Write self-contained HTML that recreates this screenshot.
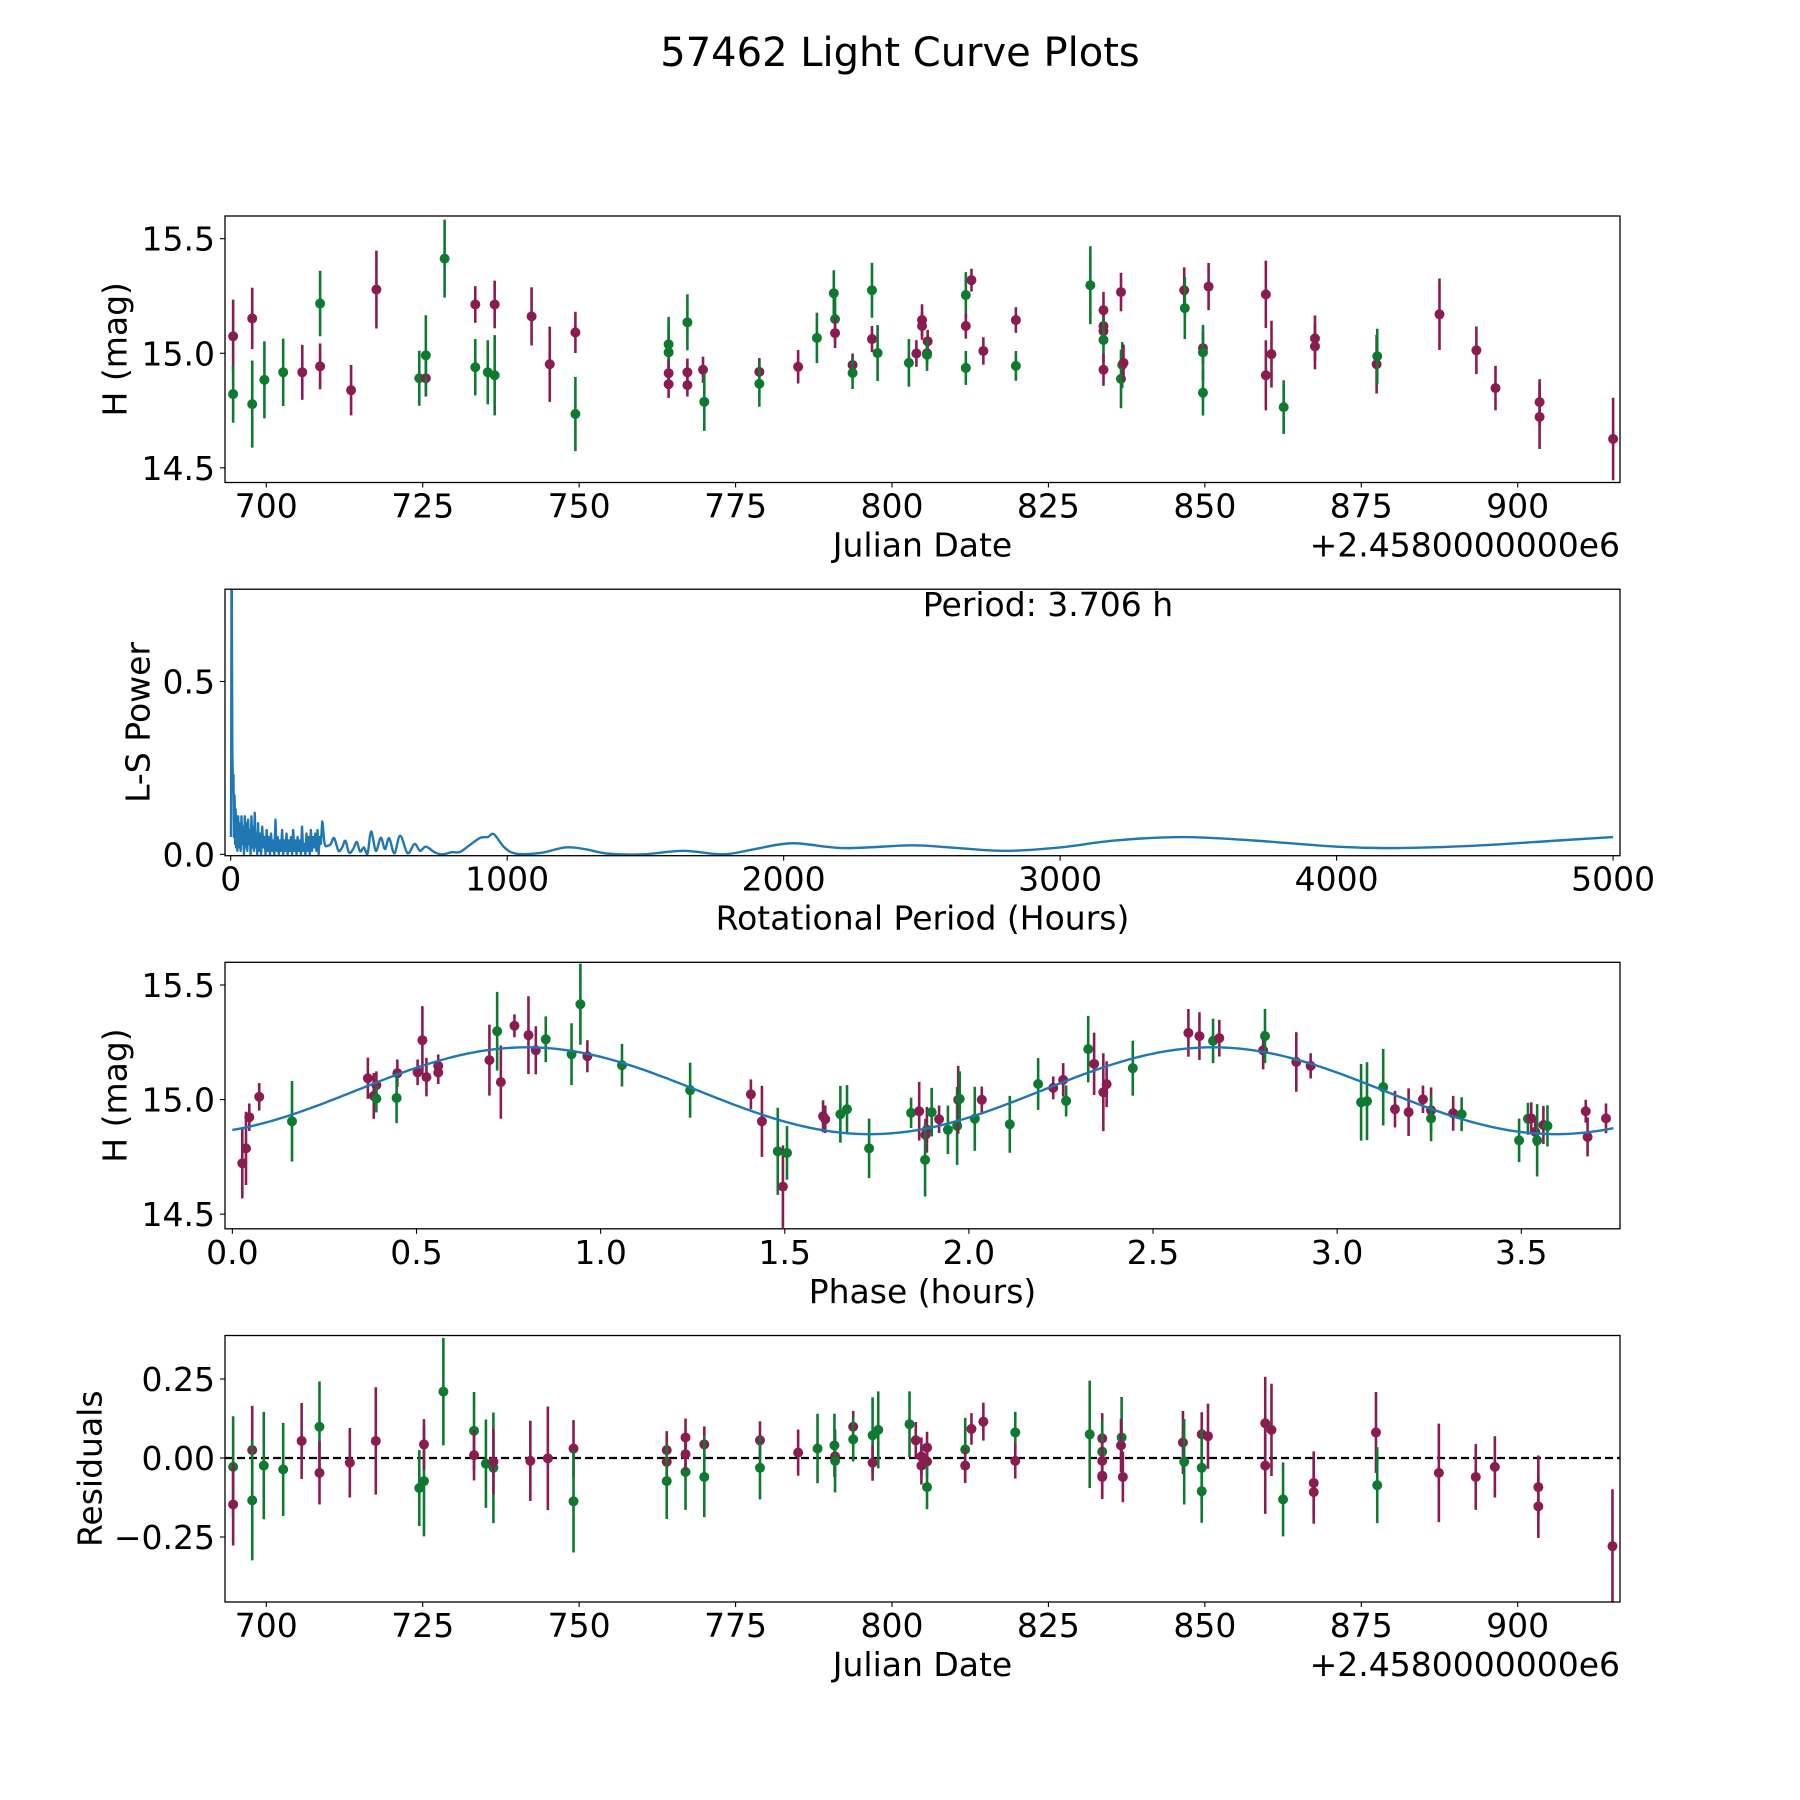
<!DOCTYPE html>
<html><head><meta charset="utf-8"><title>57462 Light Curve Plots</title>
<style>
html,body{margin:0;padding:0;background:#fff;}
svg{display:block;font-family:"DejaVu Sans","Liberation Sans",sans-serif;}
</style></head>
<body>
<svg id="fig" width="1800" height="1800" viewBox="0 0 1800 1800" xmlns="http://www.w3.org/2000/svg">
<rect x="0" y="0" width="1800" height="1800" fill="#fff"/>
<text x="900" y="66" font-size="40" text-anchor="middle">57462 Light Curve Plots</text>
</svg>
<script>
// ---------- Panel 1: light curve ----------
const lcDate=[694.7,694.7,697.75,697.75,699.7,702.7,705.75,708.6,708.6,713.55,717.6,724.45,725.5,725.5,728.5,733.4,733.4,735.4,736.5,736.5,742.4,745.3,749.4,749.4,764.3,764.3,764.3,764.3,767.3,767.3,767.3,
769.8,770.0,778.8,778.8,785.0,788.0,790.7,790.9,790.9,793.7,793.7,796.8,796.8,797.7,802.7,803.9,804.8,804.8,805.7,805.6,805.6,811.8,811.8,811.8,812.7,814.6,819.8,819.8,831.7,833.8,833.8,833.8,833.8,833.8,836.6,836.6,836.8,837.0,846.7,846.8,
850.6,849.7,849.7,849.7,859.75,859.75,860.65,862.6,867.6,867.6,877.45,877.55,887.5,893.4,896.45,903.5,903.5,915.25];
const lcMag=[15.074,14.822,15.152,14.778,14.884,14.917,14.917,14.943,15.217,14.839,15.278,14.891,14.891,14.991,15.413,15.213,14.939,14.917,15.213,14.904,15.161,14.952,15.091,14.735,15.039,15.004,14.913,14.865,15.135,14.917,14.861,
14.928,14.788,14.919,14.867,14.941,15.067,15.262,15.149,15.088,14.949,14.914,15.275,15.062,15.001,14.958,14.999,15.145,15.119,15.052,15.0,14.993,15.254,15.119,14.936,15.319,15.01,15.145,14.945,15.297,15.188,15.119,15.096,15.058,14.928,15.267,14.888,14.949,14.958,15.275,15.197,
15.291,15.022,15.004,14.828,15.257,14.904,14.996,14.765,15.065,15.030,14.952,14.987,15.17,15.013,14.848,14.787,14.722,14.626];
const lcErr=[0.16,0.125,0.134,0.19,0.168,0.147,0.12,0.1,0.143,0.11,0.17,0.12,0.08,0.175,0.17,0.08,0.123,0.14,0.104,0.175,0.127,0.164,0.09,0.162,0.12,0.12,0.06,0.06,0.122,0.06,0.05,
0.057,0.127,0.06,0.1,0.073,0.11,0.1,0.1,0.065,0.05,0.07,0.12,0.057,0.122,0.104,0.058,0.069,0.06,0.05,0.05,0.07,0.1,0.055,0.074,0.05,0.06,0.056,0.065,0.17,0.08,0.06,0.06,0.1,0.07,0.084,0.128,0.1,0.08,0.1,0.135,
0.103,0.07,0.12,0.1,0.147,0.153,0.146,0.117,0.1,0.1,0.128,0.12,0.156,0.104,0.097,0.1,0.14,0.18];
const lcFilt=["m","g","m","g","g","g","m","m","g","m","m","g","m","g","g","m","g","g","m","g","m","m","m","g","g","g","m","m","g","m","m",
"m","g","m","g","m","g","g","g","m","m","g","g","m","g","g","m","m","m","m","m","g","g","m","g","m","m","m","g","g","m","m","m","g","m","m","g","g","m","m","g",
"m","m","g","g","m","m","m","g","m","m","m","g","m","m","m","m","m","m"];
const jdTicks=[700,725,750,775,800,825,850,875,900];
const magTicks=[14.5,15.0,15.5];

// ---------- Panel 2: periodogram ----------
const lsPeriod=[1,2,3,3.7,4.5,6,8,10,12,14,16,18,20,22,24,27,30,33,36,39,42,45,48,51,54,57,60,63,66,69,72,75,78,81,84,87,90,93,96,99,102,106,110,114,118,122,126,130,134,138,142,146,150,154,158,162,166,170,174,178,182,186,190,194,198,202,206,210,214,218,222,226,230,234,238,242,246,250,254,258,262,266,270,274,278,282,286,290,294,298,302,306,310,314,318,322,326,331,
340,352,362,374,390,403,415,428,443,456,468,482,495,508,525,543,558,573,592,613,640,665,685,706,740,766,800,830,870,903,930,952,990,1032,1121,1210,1282,1363,1492,1637,1782,1895,2032,2218,2460,2600,2800,3000,3200,3443,3700,4000,4210,4500,4800,5000];
const lsPower=[0.05,0.3,0.9,0.95,0.6,0.3,0.18,0.23,0.05,0.17,0.03,0.13,0.02,0.11,0.01,0.11,0.02,0.09,0.01,0.11,0.03,0.08,0.0,0.11,0.02,0.09,0.01,0.1,0.03,0.07,0.0,0.11,0.02,0.08,0.01,0.12,0.02,0.06,0.0,0.09,0.01,0.06,0.0,0.08,0.02,0.05,0.0,0.07,0.01,0.05,0.0,0.06,0.01,0.04,0.0,0.1,0.01,0.05,0.0,0.04,0.01,0.07,0.0,0.04,0.01,0.06,0.0,0.04,0.01,0.05,0.0,0.07,0.01,0.04,0.0,0.05,0.01,0.04,0.0,0.08,0.01,0.03,0.0,0.06,0.01,0.05,0.0,0.07,0.01,0.05,0.02,0.06,0.01,0.07,0.0,0.05,0.03,0.095,
0.03,0.025,0.03,0.047,0.01,0.02,0.039,0.005,0.015,0.036,0.008,0.02,0.002,0.066,0.01,0.048,0.015,0.047,0.003,0.054,0.003,0.03,0.01,0.022,0.005,0.0,0.006,0.007,0.03,0.048,0.05,0.058,0.02,0.002,0.004,0.02,0.015,0.002,0.0,0.01,0.0,0.015,0.032,0.018,0.026,0.02,0.01,0.02,0.04,0.05,0.04,0.022,0.018,0.025,0.04,0.05];
const periodTicks=[0,1000,2000,3000,4000,5000];
const powerTicks=[0.0,0.5];
const powerTickLabels=["0.0","0.5"];

// ---------- Panel 3: phased curve ----------
const phPhase=[0.027,0.037,0.046,0.073,0.162,0.368,0.384,0.391,0.391,0.448,0.446,0.503,0.516,0.527,0.559,0.559,0.698,0.719,0.729,0.766,0.804,0.824,0.851,0.921,0.945,0.964,1.058,1.243,1.408,1.438,1.481,1.495,1.506,1.604,1.61,1.651,1.669,1.729,1.843,
1.865,1.882,1.886,1.881,1.899,1.919,1.943,1.968,1.971,1.975,2.016,2.035,2.111,2.188,2.229,2.256,2.264,2.324,2.34,2.365,2.374,2.445,2.596,2.626,2.663,2.68,2.799,2.804,2.889,2.928,3.065,3.081,3.125,3.157,3.194,3.233,3.255,3.255,3.315,3.338,3.494,3.518,3.527,3.538,3.543,3.56,3.571,3.675,3.68,3.73];
const phMag=[14.722,14.787,14.923,15.012,14.905,15.093,15.016,15.063,15.004,15.115,15.007,15.119,15.259,15.098,15.147,15.118,15.172,15.298,15.076,15.322,15.281,15.215,15.263,15.198,15.416,15.189,15.15,15.041,15.023,14.905,14.774,14.62,14.767,14.927,14.914,14.936,14.958,14.787,14.942,
14.949,14.846,14.868,14.737,14.945,14.914,14.868,14.885,14.999,15.003,14.916,14.999,14.892,15.068,15.051,15.086,14.994,15.22,15.156,15.032,15.067,15.137,15.291,15.277,15.256,15.268,15.215,15.277,15.164,15.147,14.988,14.993,15.054,14.958,14.945,15.001,14.953,14.918,14.94,14.936,14.822,14.916,14.918,14.859,14.822,14.889,14.885,14.949,14.837,14.918];
const phErr=[0.153,0.16,0.06,0.06,0.176,0.09,0.1,0.06,0.06,0.06,0.11,0.056,0.149,0.084,0.05,0.05,0.155,0.172,0.16,0.05,0.17,0.105,0.1,0.135,0.177,0.07,0.093,0.12,0.065,0.155,0.19,0.18,0.117,0.07,0.06,0.124,0.105,0.13,0.066,
0.128,0.07,0.1,0.16,0.106,0.06,0.106,0.17,0.148,0.12,0.14,0.058,0.124,0.113,0.05,0.073,0.068,0.145,0.136,0.17,0.1,0.12,0.104,0.104,0.097,0.08,0.083,0.118,0.13,0.055,0.167,0.17,0.167,0.08,0.104,0.06,0.1,0.1,0.076,0.074,0.095,0.07,0.07,0.06,0.158,0.083,0.09,0.05,0.085,0.065];
const phFilt=["m","m","m","m","g","m","m","m","g","m","g","m","m","m","m","m","m","g","m","m","m","m","g","g","g","m","g","g","m","m","g","m","g","m","m","g","g","g","g",
"m","m","m","g","g","m","g","g","m","g","g","m","g","g","m","m","g","g","m","m","m","g","m","m","g","m","m","g","m","m","g","g","g","m","m","m","m","g","m","g","g","g","m","m","g","m","g","m","m","m"];
const fitMean=[15.0385];
const fitAmp=[0.1895];
const fitPeak=[0.80];
const fitCycle=[3.724];
const fitEnd=[3.75];
const phaseTicks=[0,0.5,1,1.5,2,2.5,3,3.5];
const phaseTickLabels=["0.0","0.5","1.0","1.5","2.0","2.5","3.0","3.5"];

// ---------- Panel 4: residuals ----------
const resDate=[694.7,694.7,697.75,697.75,699.6,702.7,705.65,708.5,708.5,713.35,717.5,724.45,725.2,725.2,728.3,733.2,733.2,735.1,736.3,736.3,742.2,745.0,749.1,749.1,764.0,764.0,764.0,767.0,767.0,767.0,770.0,770.0,778.9,778.9,785.0,788.1,790.8,790.9,790.9,793.8,793.8,796.9,796.9,797.8,802.8,803.8,
804.7,804.7,805.6,805.6,805.6,811.7,811.7,812.7,814.6,819.7,819.7,831.6,833.6,833.6,833.6,833.6,833.6,836.7,836.6,836.9,846.5,846.7,849.5,849.5,849.5,850.5,859.65,859.65,860.65,862.5,867.4,867.4,877.35,877.55,887.4,893.3,896.35,903.3,903.3,915.15];
const resVal=[-0.028,-0.147,0.025,-0.134,-0.024,-0.036,0.054,0.099,-0.047,-0.015,0.054,-0.095,-0.073,0.043,0.21,0.086,0.009,-0.018,-0.031,-0.012,-0.009,-0.001,0.03,-0.137,0.025,-0.012,-0.073,-0.044,0.065,0.012,0.043,-0.06,0.056,-0.031,0.017,0.03,0.04,0.005,-0.009,0.099,0.059,0.072,-0.015,0.089,0.107,0.056,
0.005,-0.024,0.033,-0.011,-0.092,0.027,-0.024,0.092,0.115,0.081,-0.009,0.075,0.062,0.02,-0.009,-0.056,-0.06,0.065,0.04,-0.06,0.049,-0.012,0.075,-0.031,-0.105,0.069,0.11,-0.024,0.089,-0.131,-0.079,-0.108,0.081,-0.086,-0.047,-0.06,-0.028,-0.092,-0.153,-0.279];
const resErr=[0.16,0.13,0.14,0.19,0.17,0.147,0.12,0.143,0.1,0.11,0.17,0.12,0.175,0.08,0.17,0.123,0.08,0.14,0.175,0.104,0.127,0.164,0.09,0.162,0.06,0.06,0.12,0.12,0.06,0.05,0.057,0.127,0.06,0.1,0.073,0.11,0.1,0.065,0.1,0.05,0.07,0.12,0.057,0.122,0.104,0.058,
0.06,0.06,0.05,0.05,0.07,0.1,0.055,0.05,0.06,0.065,0.056,0.17,0.08,0.1,0.06,0.07,0.07,0.128,0.084,0.08,0.1,0.135,0.07,0.12,0.1,0.103,0.147,0.153,0.146,0.117,0.1,0.1,0.128,0.12,0.156,0.104,0.097,0.1,0.1,0.18];
const resFilt=["g","m","m","g","g","g","m","g","m","m","m","g","g","m","g","g","m","g","g","m","m","m","m","g","m","m","g","g","m","m","m","g","m","g","m","g","g","m","g","m","g","g","m","g","g","m",
"m","m","m","m","g","g","m","m","m","g","m","g","m","g","m","m","m","g","m","m","m","g","m","g","g","m","m","m","m","g","m","m","m","g","m","m","m","m","m","m"];
const resTicks=[-0.25,0,0.25];
const resTickLabels=["\u22120.25","0.00","0.25"];

// ---------- drawing ----------
const NS="http://www.w3.org/2000/svg";
const svg=document.getElementById("fig");
const COL={m:"#8a1c52",g:"#0e7a30"};
const L=225,R=1620,H=266.5;
function mk(tag,attrs,parent){const e=document.createElementNS(NS,tag);for(const k in attrs)e.setAttribute(k,attrs[k]);(parent||svg).appendChild(e);return e;}
function scale(d0,d1,r0,r1){return v=>r0+(v-d0)/(d1-d0)*(r1-r0);}

function axes(name,top,xd,yd,xt,xtl,yt,ytl,xlabel,ylabel,ylabelX,offset){
  const g=mk("g",{});
  
  
  const sx=scale(xd[0],xd[1],L,R), sy=scale(yd[0],yd[1],top+H,top);
  const clipId=name+"-clip";
  const cp=mk("clipPath",{id:clipId},g);mk("rect",{x:L,y:top,width:R-L,height:H},cp);
  const plot=mk("g",{"clip-path":"url(#"+clipId+")"},g);
  
  
  const ticks=mk("g",{},g);
  
  
  xt.forEach((v,i)=>{const x=sx(v);
    mk("line",{x1:x,x2:x,y1:top+H,y2:top+H+5,stroke:"#000","stroke-width":1.1},ticks);
    const t=mk("text",{x:x,y:top+H+35,"font-size":33,"text-anchor":"middle"},ticks);t.textContent=xtl[i];
    
    });
  yt.forEach((v,i)=>{const y=sy(v);
    mk("line",{x1:L-5,x2:L,y1:y,y2:y,stroke:"#000","stroke-width":1.1},ticks);
    const t=mk("text",{x:L-10,y:y+12,"font-size":33,"text-anchor":"end"},ticks);t.textContent=ytl[i];
    
    });
  const xl=mk("text",{x:(L+R)/2,y:top+H+74,"font-size":33,"text-anchor":"middle"},g);xl.textContent=xlabel;
  
  
  const cy=top+H/2;
  const yl=mk("text",{x:ylabelX,y:cy,"font-size":33,"text-anchor":"middle","dominant-baseline":"central",transform:"rotate(-90 "+ylabelX+" "+cy+")"},g);yl.textContent=ylabel;
  
  
  if(offset){const o=mk("text",{x:R,y:top+H+74,"font-size":33,"text-anchor":"end"},g);o.textContent=offset;
    
    }
  return {sx,sy,plot,g,top};
}
function frame(ax){const f=mk("rect",{x:L,y:ax.top,width:R-L,height:H,fill:"none",stroke:"#000","stroke-width":1.3},ax.g);
  
  }
function errpoints(ax,xs,ys,es,cs,label){
  xs.forEach((xv,i)=>{const x=ax.sx(xv),c=COL[cs[i]];
    const l=mk("line",{x1:x,x2:x,y1:ax.sy(ys[i]-es[i]),y2:ax.sy(ys[i]+es[i]),stroke:c,"stroke-width":2.6},ax.plot);
    
    
    const p=mk("circle",{cx:x,cy:ax.sy(ys[i]),r:5,fill:c},ax.plot);
    
    });
}
const jdLabels=jdTicks.map(String);
const magLabels=magTicks.map(v=>v.toFixed(1));

// Panel 1
const a1=axes("light-curve-panel",216,[693.4,916.35],[14.436,15.599],jdTicks,jdLabels,magTicks,magLabels,"Julian Date","H (mag)",115,"+2.4580000000e6");
errpoints(a1,lcDate,lcMag,lcErr,lcFilt,"light-curve");
frame(a1);

// Panel 2
const a2=axes("periodogram-panel",589.2,[-20.6,5025],[-0.004,0.767],periodTicks,periodTicks.map(String),powerTicks,powerTickLabels,"Rotational Period (Hours)","L-S Power",138,null);
(function(){
  let d="";
  const pts=lsPeriod.map((p,i)=>[a2.sx(p),a2.sy(lsPower[i])]);
  const split=lsPeriod.indexOf(331);
  pts.forEach((p,i)=>{
    if(i===0){d+="M"+p[0].toFixed(2)+" "+p[1].toFixed(2);return;}
    if(i<=split){d+="L"+p[0].toFixed(2)+" "+p[1].toFixed(2);return;}
    const p0=pts[i-2]||pts[i-1],p1=pts[i-1],p3=pts[i+1]||p;
    const c1=[p1[0]+(p[0]-p0[0])/6,p1[1]+(p[1]-p0[1])/6],c2=[p[0]-(p3[0]-p1[0])/6,p[1]-(p3[1]-p1[1])/6];
    d+="C"+c1[0].toFixed(2)+" "+c1[1].toFixed(2)+" "+c2[0].toFixed(2)+" "+c2[1].toFixed(2)+" "+p[0].toFixed(2)+" "+p[1].toFixed(2);
  });
  const path=mk("path",{d:d,fill:"none",stroke:"#1f77b4","stroke-width":2.4,"stroke-linejoin":"round"},a2.plot);
  
  
})();
frame(a2);
const pt=mk("text",{x:1048,y:616,"font-size":33,"text-anchor":"middle"},a2.g);pt.textContent="Period: 3.706 h";



// Panel 3
const a3=axes("phase-panel",962.3,[-0.02,3.768],[14.436,15.599],phaseTicks,phaseTickLabels,magTicks,magLabels,"Phase (hours)","H (mag)",115,null);
errpoints(a3,phPhase,phMag,phErr,phFilt,"phased");
(function(){
  let d="";
  for(let i=0;i<=300;i++){const ph=fitEnd[0]*i/300;
    const m=fitMean[0]+fitAmp[0]*Math.cos(2*Math.PI*(ph-fitPeak[0])/(fitCycle[0]/2));
    d+=(i?"L":"M")+a3.sx(ph).toFixed(2)+" "+a3.sy(m).toFixed(2);}
  const path=mk("path",{d:d,fill:"none",stroke:"#1f77b4","stroke-width":2.4},a3.plot);
  
  
})();
frame(a3);

// Panel 4
const a4=axes("residuals-panel",1335.5,[693.4,916.35],[-0.4557,0.3877],jdTicks,jdLabels,resTicks,resTickLabels,"Julian Date","Residuals",90,"+2.4580000000e6");
const zl=mk("line",{x1:L,x2:R,y1:a4.sy(0),y2:a4.sy(0),stroke:"#000","stroke-width":2.2,"stroke-dasharray":"8,4"},a4.plot);


errpoints(a4,resDate,resVal,resErr,resFilt,"residual");
frame(a4);
</script>
</body></html>
